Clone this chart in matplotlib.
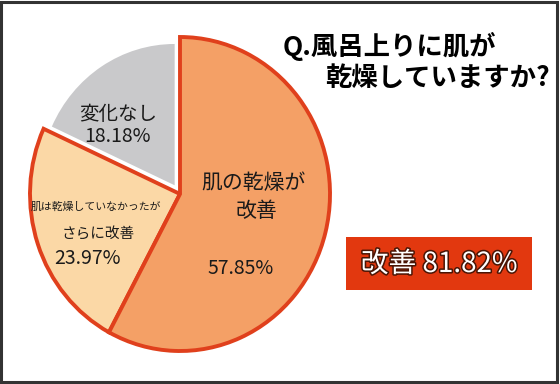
import matplotlib
matplotlib.use("Agg")
import matplotlib.pyplot as plt
import matplotlib.patheffects as pe
from matplotlib.patches import Rectangle

plt.rcParams['font.family'] = ['Noto Sans CJK JP', 'DejaVu Sans']

# data
categories = ["肌の乾燥が改善", "肌は乾燥していなかったがさらに改善", "変化なし"]
values = [57.85, 23.97, 18.18]
title_lines = ["Q.風呂上りに肌が", "乾燥していますか?"]
improved_total = 81.82

W, H = 560, 384
fig = plt.figure(figsize=(W / 100, H / 100), dpi=100)
fig.patch.set_facecolor("white")

def fx(x):
    return x / W

def fy(y):
    return 1 - y / H

# pie axes -> ellipse centered (180,194) px, rx=150, ry=157
cx, cy, rx, ry = 180, 194, 150, 157
lim = 1.3
ax = fig.add_axes([(cx - lim * rx) / W, ((H - cy) - lim * ry) / H,
                   2 * lim * rx / W, 2 * lim * ry / H])
colors = ["#F4A066", "#FBD8A6", "#C9C9CB"]
wedges, _ = ax.pie(values, startangle=90, counterclock=False,
                   explode=[0, 0, 0.066], colors=colors, radius=1.0)
wedges[0].set_edgecolor("#E0401C")
wedges[0].set_linewidth(2.8)
wedges[1].set_edgecolor("#E0401C")
wedges[1].set_linewidth(2.8)
wedges[2].set_edgecolor("none")
wedges[2].set_radius(0.9)
wedges[1].set_zorder(1)
wedges[0].set_zorder(2)
ax.set_xlim(-lim, lim)
ax.set_ylim(-lim, lim)
ax.set_aspect("auto")
ax.axis("off")

tc = "#1a1a1a"
# title
fig.text(fx(283), fy(46), title_lines[0], fontsize=19, fontweight="bold",
         ha="left", va="center", color="black")
fig.text(fx(325), fy(78), title_lines[1], fontsize=19, fontweight="bold",
         ha="left", va="center", color="black")

# gray slice labels
fig.text(fx(118), fy(114), "変化なし", fontsize=14, ha="center", va="center", color=tc)
fig.text(fx(118), fy(137), f"{values[2]:.2f}%", fontsize=14, ha="center", va="center", color=tc)

# orange slice labels
fig.text(fx(254), fy(183), "肌の乾燥が", fontsize=15, ha="center", va="center", color=tc)
fig.text(fx(256), fy(211), "改善", fontsize=15, ha="center", va="center", color=tc)
fig.text(fx(241), fy(268), f"{values[0]:.2f}%", fontsize=14, ha="center", va="center", color=tc)

# beige slice labels
fig.text(fx(96), fy(207), "肌は乾燥していなかったが", fontsize=7.8, ha="center", va="center", color=tc)
fig.text(fx(98), fy(235), "さらに改善", fontsize=10.5, ha="center", va="center", color=tc)
fig.text(fx(87), fy(259), f"{values[1]:.2f}%", fontsize=14, ha="center", va="center", color=tc)

# red box
fig.patches.append(Rectangle((fx(346), fy(290)), (532 - 346) / W, (290 - 237) / H,
                             transform=fig.transFigure, facecolor="#E2380F",
                             edgecolor="none", zorder=1))
fig.text(fx(439), fy(264), f"改善 {improved_total:.2f}%", fontsize=20,
         ha="center", va="center", color="white", zorder=3,
         path_effects=[pe.withStroke(linewidth=2.2, foreground="#4a1505")])

# outer frame
fig.patches.append(Rectangle((0.002, 0.006), 0.992, 0.99, transform=fig.transFigure,
                             facecolor="none", edgecolor="#333333", linewidth=2.2, zorder=5))

fig.savefig("out.png", dpi=100, facecolor="white")
